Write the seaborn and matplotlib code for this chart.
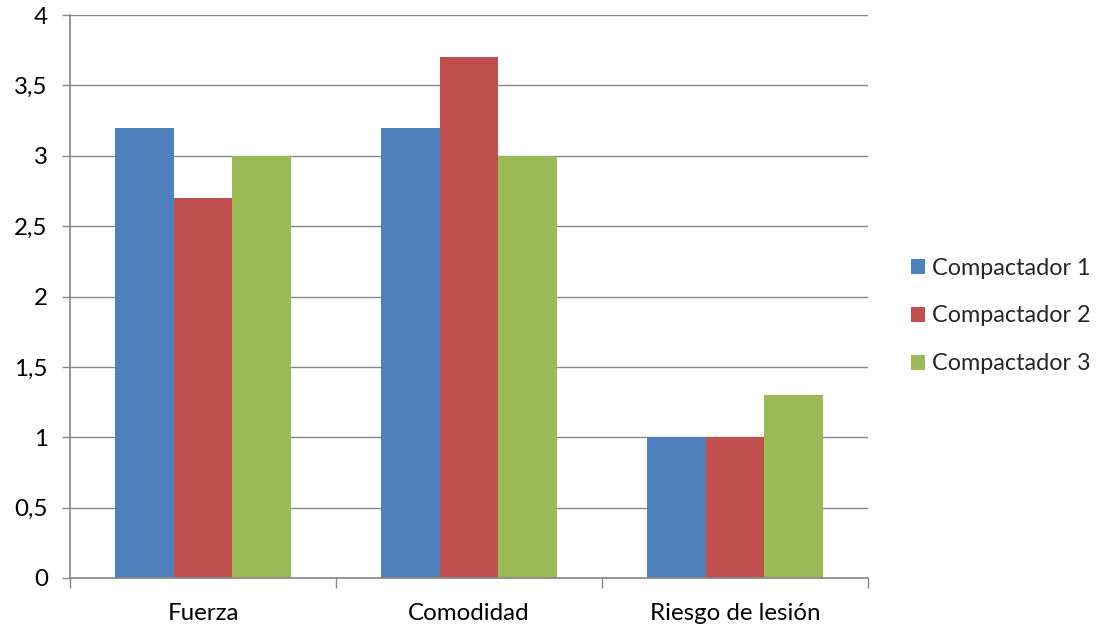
import matplotlib
matplotlib.use("Agg")
import matplotlib.pyplot as plt
from matplotlib.patches import Patch
from matplotlib.ticker import FuncFormatter, FixedLocator
import seaborn as sns
import pandas as pd

categories = ["Fuerza", "Comodidad", "Riesgo de lesión"]
series_names = ["Compactador 1", "Compactador 2", "Compactador 3"]
compactador_1 = [3.2, 3.2, 1.0]
compactador_2 = [2.7, 3.7, 1.0]
compactador_3 = [3.0, 3.0, 1.3]
y_ticks = [0, 0.5, 1, 1.5, 2, 2.5, 3, 3.5, 4]

colors = ["#4F81BD", "#C0504D", "#9BBB59"]
grid_color = "#868686"
fs = 17.4

rows = []
for name, vals in zip(series_names, [compactador_1, compactador_2, compactador_3]):
    for cat, v in zip(categories, vals):
        rows.append({"Categoría": cat, "Serie": name, "Valor": v})
df = pd.DataFrame(rows)

sns.set_theme(style="white")
plt.rcParams["font.family"] = ["Lato", "DejaVu Sans"]

fig = plt.figure(figsize=(11.02, 6.28), dpi=100)
ax = fig.add_axes([70 / 1102, 1 - 578 / 628, 798 / 1102, 563 / 628])

sns.barplot(data=df, x="Categoría", y="Valor", hue="Serie", order=categories,
            hue_order=series_names, palette=colors, width=0.665,
            saturation=1, linewidth=0, errorbar=None, legend=False, ax=ax)

ax.set_xlim(-0.5, 2.5)
ax.set_ylim(0, 4)
ax.set_xlabel("")
ax.set_ylabel("")

# y axis: comma decimal separator
ax.yaxis.set_major_locator(FixedLocator(y_ticks))
ax.yaxis.set_major_formatter(FuncFormatter(
    lambda v, p: (f"{v:g}").replace(".", ",")))
ax.yaxis.grid(True, color=grid_color, linewidth=1.0)
ax.set_axisbelow(True)

# x axis: tick marks between categories, labels centered
ax.set_xticks([-0.5, 0.5, 1.5, 2.5])
ax.set_xticklabels([])
ax.set_xticks([0, 1, 2], minor=True)
ax.set_xticklabels(categories, minor=True)
ax.tick_params(axis="x", which="major", direction="out", length=7,
               width=1.0, color=grid_color, bottom=True)
ax.tick_params(axis="x", which="minor", length=0, pad=18,
               labelsize=fs, labelcolor="black")
ax.tick_params(axis="y", direction="out", length=6, width=1.0,
               color=grid_color, left=True, pad=10, labelsize=fs,
               labelcolor="black")

for s in ["top", "right"]:
    ax.spines[s].set_visible(False)
for s in ["left", "bottom"]:
    ax.spines[s].set_color(grid_color)
    ax.spines[s].set_linewidth(1.2)

handles = [Patch(facecolor=c, edgecolor="none") for c in colors]
fig.legend(handles, series_names, loc="center left",
           bbox_to_anchor=(890 / 1102, 1 - 316 / 628), frameon=False,
           fontsize=16.8, handlelength=0.6, handleheight=0.6,
           handletextpad=0.28, labelspacing=1.15)

fig.savefig("out.png", dpi=100)
